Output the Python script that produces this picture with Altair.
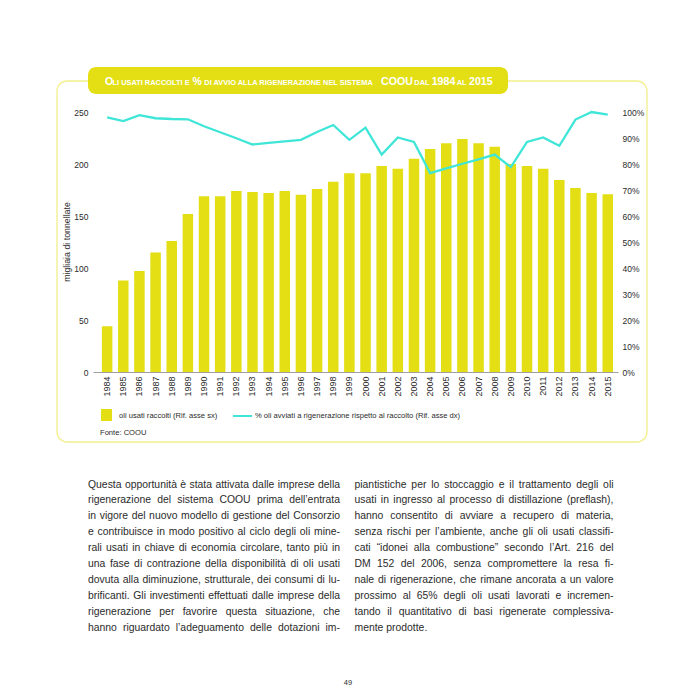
import altair as alt
import pandas as pd

FONT = "Liberation Sans"
YELLOW = "#e3df14"
CYAN = "#3fe6d8"
BOX = "#f2ef8c"
TXT = "#2b2b2b"

years = ["1984", "1985", "1986", "1987", "1988", "1989", "1990", "1991", "1992", "1993",
         "1994", "1995", "1996", "1997", "1998", "1999", "2000", "2001", "2002", "2003",
         "2004", "2005", "2006", "2007", "2008", "2009", "2010", "2011", "2012", "2013",
         "2014", "2015"]
collected = [44, 88, 97, 115, 126, 152, 169, 169, 174, 173,
             172, 174, 170.5, 176, 183, 191, 191, 198, 195.5, 205,
             214.5, 220, 224, 220, 216.5, 200, 198, 195.5, 184.5, 177,
             172, 171]
pct_regen = [97.9, 96.5, 98.8, 97.6, 97.3, 97.2, 94.5, 92.2, 89.9, 87.5,
             88.1, 88.7, 89.3, 92.3, 95.0, 89.3, 94.0, 83.6, 90.2, 88.5,
             76.5, 78.3, 80.1, 81.8, 83.6, 78.8, 88.5, 90.2, 87.0, 97.1,
             100.0, 99.0]
left_ticks = [0, 50, 100, 150, 200, 250]
right_ticks = [0, 10, 20, 30, 40, 50, 60, 70, 80, 90, 100]

title_parts = ["O", "LI USATI RACCOLTI E", "%", "DI AVVIO ALLA RIGENERAZIONE NEL SISTEMA",
               "COOU", "DAL", "1984", "AL", "2015"]
y_title = "migliaia di tonnellate"
legend_bar = "oli usati raccolti (Rif. asse sx)"
legend_line = "% oli avviati a rigenerazione rispetto al raccolto (Rif. asse dx)"
source = "Fonte: COOU"
page_number = "49"

left_col = [
    "Questa opportunità è stata attivata dalle imprese della",
    "rigenerazione del sistema COOU prima dell’entrata",
    "in vigore del nuovo modello di gestione del Consorzio",
    "e contribuisce in modo positivo al ciclo degli oli mine-",
    "rali usati in chiave di economia circolare, tanto più in",
    "una fase di contrazione della disponibilità di oli usati",
    "dovuta alla diminuzione, strutturale, dei consumi di lu-",
    "brificanti. Gli investimenti effettuati dalle imprese della",
    "rigenerazione per favorire questa situazione, che",
    "hanno riguardato l’adeguamento delle dotazioni im-",
]
right_col = [
    "piantistiche per lo stoccaggio e il trattamento degli oli",
    "usati in ingresso al processo di distillazione (preflash),",
    "hanno consentito di avviare a recupero di materia,",
    "senza rischi per l’ambiente, anche gli oli usati classifi-",
    "cati “idonei alla combustione” secondo l’Art. 216 del",
    "DM 152 del 2006, senza compromettere la resa fi-",
    "nale di rigenerazione, che rimane ancorata a un valore",
    "prossimo al 65% degli oli usati lavorati e incremen-",
    "tando il quantitativo di basi rigenerate complessiva-",
    "mente prodotte.",
]

# Arial / Liberation Sans advance widths (per 1000 em) used for justifying the body text
_W = {" ": 278, "%": 889, "(": 333, ")": 333, ",": 278, "-": 333, ".": 278, "’": 222,
      "“": 333, "”": 333, "'": 191}
for _c in "0123456789":
    _W[_c] = 556
for _c, _v in zip("ABCDEFGHIJKLMNOPQRSTUVWXYZ",
                  [667, 667, 722, 722, 667, 611, 778, 722, 278, 500, 667, 556, 833,
                   722, 778, 667, 778, 722, 667, 611, 722, 667, 944, 667, 667, 611]):
    _W[_c] = _v
for _c, _v in zip("abcdefghijklmnopqrstuvwxyz",
                  [556, 556, 500, 556, 556, 278, 556, 556, 222, 222, 500, 222, 833,
                   556, 556, 556, 556, 333, 500, 278, 556, 500, 722, 500, 500, 500]):
    _W[_c] = _v
for _c, _b in zip("àèéìòù", "aeeiou"):
    _W[_c] = _W[_b]


def text_w(s, size):
    return sum(_W.get(c, 556) for c in s) * size / 1000.0


BODY_SIZE = 10.4
LINE_H = 15.9


def body_layers(lines, x0, y0, col_w, last_ragged):
    out = []
    for i, ln in enumerate(lines):
        words = ln.split(" ")
        y = y0 + i * LINE_H
        if (last_ragged and i == len(lines) - 1) or len(words) == 1:
            out.append(alt.Chart(one).mark_text(
                align="left", baseline="alphabetic", font=FONT, fontSize=BODY_SIZE,
                color=TXT).encode(x=alt.value(x0), y=alt.value(y), text=alt.value(ln)))
            continue
        ww = [text_w(w, BODY_SIZE) for w in words]
        gap = (col_w - sum(ww)) / (len(words) - 1)
        xx = x0
        for w, wd in zip(words, ww):
            out.append(alt.Chart(one).mark_text(
                align="left", baseline="alphabetic", font=FONT, fontSize=BODY_SIZE,
                color=TXT).encode(x=alt.value(round(xx, 2)), y=alt.value(y), text=alt.value(w)))
            xx += wd + gap
    return out


df = pd.DataFrame({"anno": years, "raccolti": collected, "pct": pct_regen})
one = pd.DataFrame({"k": [0]})

xenc = alt.X(
    "anno:N", sort=None, title=None,
    scale=alt.Scale(paddingInner=0.35, paddingOuter=0.43, align=0.64),
    axis=alt.Axis(labelAngle=270, ticks=False, domainColor="#a0a0a0", domainWidth=1,
                  labelFont=FONT, labelFontSize=9, labelColor=TXT, labelPadding=4, grid=False),
)

bars = alt.Chart(df).mark_bar(color=YELLOW).encode(
    x=xenc,
    y=alt.Y("raccolti:Q", title=None, scale=alt.Scale(domain=[0, 250], nice=False),
            axis=alt.Axis(values=left_ticks, ticks=False, domain=False, grid=False,
                          labelFont=FONT, labelFontSize=8.5, labelColor=TXT, labelPadding=5)),
)

line = alt.Chart(df).mark_line(color=CYAN, strokeWidth=2.3).encode(
    x=alt.X("anno:N", sort=None),
    y=alt.Y("pct:Q", title=None, scale=alt.Scale(domain=[0, 100], nice=False),
            axis=alt.Axis(orient="right", values=right_ticks, ticks=False, domain=False,
                          grid=False, labelExpr="datum.value + '%'", labelFont=FONT,
                          labelFontSize=8.5, labelColor=TXT, labelPadding=4)),
)

deco = alt.Chart(one)

box = deco.mark_rect(filled=False, color=BOX, strokeWidth=1.3, cornerRadius=10).encode(
    x=alt.value(-36), x2=alt.value(554), y=alt.value(-31), y2=alt.value(330))

banner = deco.mark_rect(color=YELLOW, cornerRadius=8).encode(
    x=alt.value(-5), x2=alt.value(415), y=alt.value(-45), y2=alt.value(-18))

title_x = [12, 19.5, 99.5, 111.3, 288, 321.3, 338.7, 363.7, 376]
title_big = [True, False, True, False, True, False, True, False, True]
title_layers = []
for txt, xx, big in zip(title_parts, title_x, title_big):
    title_layers.append(
        deco.mark_text(align="left", baseline="alphabetic", font=FONT, color="white",
                       fontWeight="bold", fontSize=10.6 if big else 7.42).encode(
            x=alt.value(xx), y=alt.value(-27.5), text=alt.value(txt)))

ytitle = deco.mark_text(angle=270, font=FONT, fontSize=8.8, color=TXT,
                        align="center", baseline="middle").encode(
    x=alt.value(-26), y=alt.value(130), text=alt.value(y_title))

leg_sq = deco.mark_rect(color=YELLOW).encode(
    x=alt.value(8), x2=alt.value(19), y=alt.value(297), y2=alt.value(309))
leg_t1 = deco.mark_text(align="left", baseline="middle", font=FONT, fontSize=7.6, color=TXT).encode(
    x=alt.value(26), y=alt.value(304), text=alt.value(legend_bar))
leg_ln = deco.mark_rule(color=CYAN, strokeWidth=2).encode(
    x=alt.value(140), x2=alt.value(159), y=alt.value(304))
leg_t2 = deco.mark_text(align="left", baseline="middle", font=FONT, fontSize=7.6, color=TXT).encode(
    x=alt.value(162), y=alt.value(304), text=alt.value(legend_line))
src = deco.mark_text(align="left", baseline="middle", font=FONT, fontSize=7.6, color=TXT).encode(
    x=alt.value(7), y=alt.value(321), text=alt.value(source))

body = body_layers(left_col, -5, 375.5, 252, False) + body_layers(right_col, 261.5, 375.5, 259, True)

pnum = deco.mark_text(align="center", baseline="middle", font=FONT, fontSize=7.5, color=TXT).encode(
    x=alt.value(255), y=alt.value(571), text=alt.value(page_number))

chart = alt.layer(
    box, banner, bars, line, *title_layers, ytitle, leg_sq, leg_t1, leg_ln, leg_t2, src,
    *body, pnum,
).resolve_scale(y="independent").properties(
    width=525, height=260,
    autosize=alt.AutoSizeParams(type="none"),
    padding={"left": 85, "top": 104, "right": 60, "bottom": 320},
    background="white",
).configure_view(strokeWidth=0)

chart.save("out.html", embed_options={"renderer": "svg", "actions": False})
